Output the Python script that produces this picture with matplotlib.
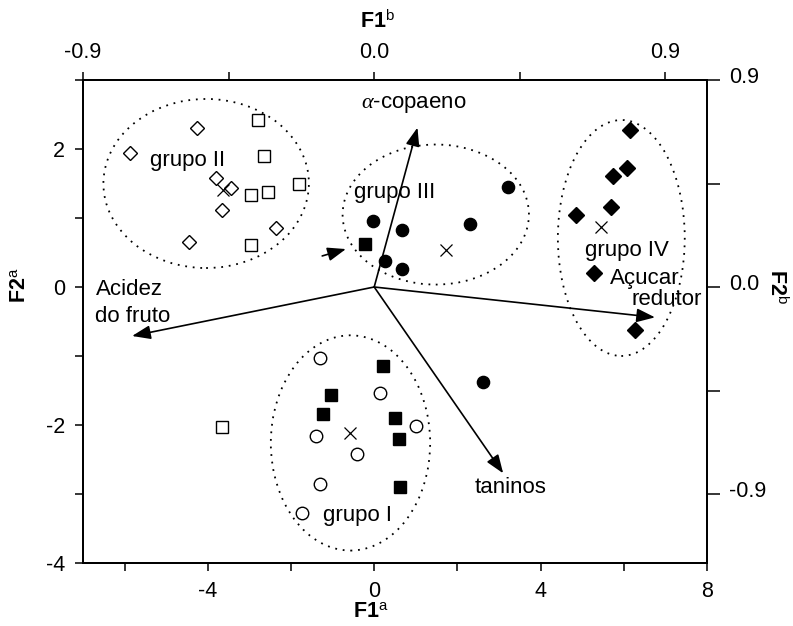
import matplotlib
matplotlib.use("Agg")
import matplotlib.pyplot as plt
from matplotlib.patches import Ellipse
import matplotlib.transforms as mtransforms

plt.rcParams['font.family'] = ['Liberation Sans', 'DejaVu Sans']
plt.rcParams['mathtext.fontset'] = 'custom'
plt.rcParams['mathtext.rm'] = 'Liberation Sans'
plt.rcParams['mathtext.bf'] = 'Liberation Sans:bold'
plt.rcParams['mathtext.it'] = 'Liberation Serif:italic'

# ---- data (F1, F2 scores) ----
g2_open_diamond_x = [-4.27, -5.86, -3.81, -3.44, -3.65, -4.46, -2.37]
g2_open_diamond_y = [2.30, 1.94, 1.58, 1.43, 1.11, 0.65, 0.85]
open_square_x = [-2.79, -2.65, -1.81, -2.55, -2.97, -2.95, -3.65]
open_square_y = [2.42, 1.90, 1.50, 1.37, 1.33, 0.61, -2.03]
filled_circle_x = [3.21, -0.02, 0.66, 2.31, 0.26, 0.67, 2.61]
filled_circle_y = [1.45, 0.96, 0.82, 0.91, 0.38, 0.26, -1.37]
filled_diamond_x = [6.14, 6.08, 5.74, 5.69, 4.84, 5.28, 6.27]
filled_diamond_y = [2.27, 1.73, 1.61, 1.16, 1.04, 0.21, -0.62]
open_circle_x = [-1.31, 0.14, 1.00, -1.41, -0.42, -1.31, -1.73]
open_circle_y = [-1.03, -1.53, -2.02, -2.16, -2.42, -2.86, -3.28]
filled_square_x = [0.20, -1.03, -1.22, 0.51, 0.60, 0.63, -0.23]
filled_square_y = [-1.14, -1.57, -1.84, -1.90, -2.21, -2.90, 0.63]

# group centroids
centroid_x = [-0.58, -3.64, 1.73, 5.46]
centroid_y = [-2.11, 1.41, 0.53, 0.87]

# group ellipses (center x, center y, width, height)
groups = ['grupo I', 'grupo II', 'grupo III', 'grupo IV']
ell_cx = [-0.57, -4.04, 1.48, 5.94]
ell_cy = [-2.26, 1.50, 1.05, 0.71]
ell_w = [3.83, 4.94, 4.48, 3.05]
ell_h = [3.12, 2.45, 2.03, 3.42]

# variable loadings (arrow tips, in F1/F2 score units)
variables = [r'$\alpha$-copaeno', 'Acidez\ndo fruto', 'Açucar redutor', 'taninos']
load_x = [1.04, -5.82, 6.75, 3.10]
load_y = [2.31, -0.71, -0.44, -2.70]

# axis ticks
bottom_ticks = [-6, -4, -2, 0, 2, 4, 6, 8]
bottom_labels = ['', '-4', '', '0', '', '4', '', '8']
left_ticks = [-4, -3, -2, -1, 0, 1, 2, 3]
left_labels = ['-4', '', '-2', '', '0', '', '2', '']
sec_ticks = [-0.9, -0.45, 0.0, 0.45, 0.9]
sec_labels = ['-0.9', '', '0.0', '', '0.9']

W, H = 793, 626
fig = plt.figure(figsize=(W / 100, H / 100), dpi=100)
L, R, T, B = 83, 707, 80, 563
ax = fig.add_axes([L / W, 1 - B / H, (R - L) / W, (B - T) / H])
ax.set_xlim(-7, 8)
ax.set_ylim(-4, 3)

ms_common = dict(linestyle='none', color='black', markeredgewidth=1.0)
ax.plot(g2_open_diamond_x, g2_open_diamond_y, marker='D', ms=7.5, mfc='white', **ms_common)
ax.plot(open_square_x, open_square_y, marker='s', ms=8.5, mfc='white', **ms_common)
ax.plot(filled_circle_x, filled_circle_y, marker='o', ms=8.8, mfc='black', **ms_common)
ax.plot(filled_diamond_x, filled_diamond_y, marker='D', ms=8.3, mfc='black', **ms_common)
ax.plot(open_circle_x, open_circle_y, marker='o', ms=9, mfc='white', **ms_common)
ax.plot(filled_square_x, filled_square_y, marker='s', ms=8.5, mfc='black', **ms_common)
ax.plot(centroid_x, centroid_y, marker='x', ms=8.5, linestyle='none', color='black', markeredgewidth=0.9)

for cx, cy, w, h in zip(ell_cx, ell_cy, ell_w, ell_h):
    ax.add_patch(Ellipse((cx, cy), w, h, fill=False, edgecolor='black',
                         linewidth=1.3, linestyle=(0, (1, 3.2))))

arrow_kw = dict(arrowstyle='-|>,head_length=0.8,head_width=0.3', color='black', lw=1.2,
                shrinkA=0, shrinkB=0, mutation_scale=14)
for lx, ly in zip(load_x, load_y):
    ax.annotate('', xy=(lx, ly), xytext=(0, 0), arrowprops=arrow_kw)
# small arrow pointing to the outlying filled square
ax.annotate('', xy=(-0.68, 0.55), xytext=(-1.25, 0.45), arrowprops=arrow_kw)

fs = 16
ax.text(-5.40, 1.83, 'grupo II', fontsize=fs, va='center', ha='left')
ax.text(-0.48, 1.37, 'grupo III', fontsize=fs, va='center', ha='left')
ax.text(5.06, 0.53, 'grupo IV', fontsize=fs, va='center', ha='left')
ax.text(-1.24, -3.31, 'grupo I', fontsize=fs, va='center', ha='left')
ax.text(-0.32, 2.65, variables[0], fontsize=fs, va='center', ha='left')
ax.text(-6.70, -0.03, 'Acidez', fontsize=fs, va='center', ha='left')
ax.text(-6.70, -0.43, 'do fruto', fontsize=fs, va='center', ha='left')
ax.text(5.66, 0.12, 'Açucar', fontsize=fs, va='center', ha='left')
ax.text(7.88, -0.18, 'redutor', fontsize=fs, va='center', ha='right')
ax.text(2.41, -2.90, 'taninos', fontsize=fs, va='center', ha='left')

tfs = 15.5
lw_sp = 1.2
ax.set_xticks(bottom_ticks)
ax.set_xticklabels(bottom_labels)
ax.set_yticks(left_ticks)
ax.set_yticklabels(left_labels)
ax.tick_params(direction='out', length=6, width=1.1, labelsize=tfs, pad=7)

axt = ax.twiny()
axt.set_xlim(-0.9, 0.9 * 8 / 7)
axt.set_xticks(sec_ticks)
axt.set_xticklabels(sec_labels)
axt.tick_params(direction='out', length=6, width=1.1, labelsize=tfs, pad=6)

axr = ax.twinx()
axr.set_ylim(-1.2, 0.9)
axr.set_yticks(sec_ticks)
axr.set_yticklabels(sec_labels)
axr.tick_params(direction='out', length=9, width=1.1, labelsize=tfs, pad=7)
off = mtransforms.ScaledTranslation(0, 5 / 100, fig.dpi_scale_trans)
for lab in axr.get_yticklabels():
    lab.set_transform(lab.get_transform() + off)

for a in (ax, axt, axr):
    for s in a.spines.values():
        s.set_linewidth(lw_sp)

lfs = 15.5
fig.text(371 / W, 1 - 612 / H, r'$\mathbf{F1}^{\mathrm{a}}$', fontsize=lfs, ha='center', va='center')
fig.text(378 / W, 1 - 22 / H, r'$\mathbf{F1}^{\mathrm{b}}$', fontsize=lfs, ha='center', va='center')
fig.text(21 / W, 1 - 285 / H, r'$\mathbf{F2}^{\mathrm{a}}$', fontsize=lfs, ha='center', va='center', rotation=90)
fig.text(776 / W, 1 - 287 / H, r'$\mathbf{F2}^{\mathrm{b}}$', fontsize=lfs, ha='center', va='center', rotation=270)

fig.savefig('out.png', dpi=100)
